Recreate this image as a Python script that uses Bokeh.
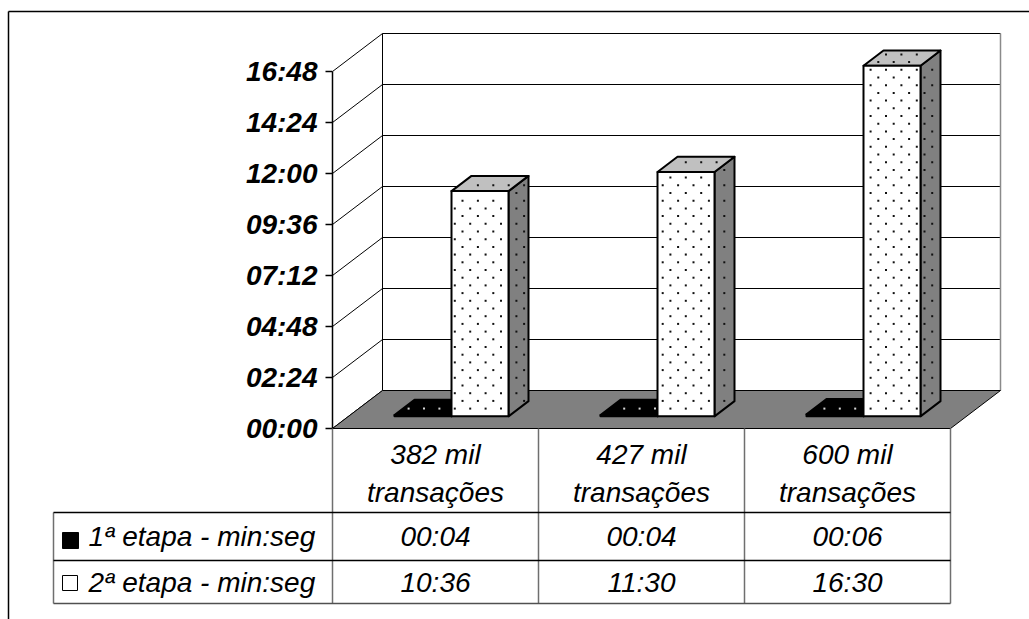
import numpy as np
from bokeh.plotting import figure
from bokeh.models import Range1d
from bokeh.core.properties import value
from bokeh.embed import file_html
from bokeh.resources import INLINE

# ---- data -------------------------------------------------------------
cat_line1 = ["382 mil", "427 mil", "600 mil"]
cat_line2 = ["transações", "transações", "transações"]
series_names = ["1ª etapa - min:seg", "2ª etapa - min:seg"]
etapa1_sec = [4, 4, 6]          # 00:04, 00:04, 00:06
etapa2_sec = [636, 690, 990]    # 10:36, 11:30, 16:30
tick_values = [0, 144, 288, 432, 576, 720, 864, 1008]
tick_labels = ["00:00", "02:24", "04:48", "07:12", "09:36", "12:00", "14:24", "16:48"]


def mmss(sec):
    return f"{sec // 60:02d}:{sec % 60:02d}"


# ---- canvas geometry (pixel layout -> data space helpers) ------------
W, H = 1029, 619
X0_PX, Y0_PX = 332, 428          # front-left corner of the floor
CAT_PX = 206                     # width of one category slot
SEC_PER_PX = 1008 / 357


def X(px):
    return (np.asarray(px, dtype=float) - X0_PX) / CAT_PX


def Y(py):
    return (Y0_PX - np.asarray(py, dtype=float)) * SEC_PER_PX


def to_px(xs, ys):
    return X0_PX + np.asarray(xs, dtype=float) * CAT_PX, Y0_PX - np.asarray(ys, dtype=float) / SEC_PER_PX


DX = float(X(X0_PX + 50))        # depth offset of the back wall
DY = 38 * SEC_PER_PX
N = len(cat_line1)
YMAX = tick_values[-1]

GAP = 46 / CAT_PX                # space on each side of a bar pair
BW = 57 / CAT_PX                 # bar width
F0, F1 = 0.32, 0.72              # bar depth span (fraction of floor depth)

FONT = value("Liberation Sans")

# staggered dot fill (screen-aligned lattice, in pixels)
ROW, COL, MARGIN = 7.7, 15.4, 2.5


def dot_fill(xs, ys):
    """Dot lattice points that fall inside a convex face, returned in data space."""
    px, py = to_px(xs, ys)
    n = len(px)
    area = 0.5 * sum(px[k] * py[(k + 1) % n] - px[(k + 1) % n] * py[k] for k in range(n))
    sgn = np.sign(area)
    gx, gy = [], []
    for k in range(int(np.floor(py.min() / ROW)), int(np.ceil(py.max() / ROW)) + 1):
        off = (k % 2) * COL / 2
        js = np.arange(int(np.floor((px.min() - off) / COL)), int(np.ceil((px.max() - off) / COL)) + 1)
        gx.extend(off + js * COL)
        gy.extend([k * ROW] * len(js))
    gx, gy = np.array(gx), np.array(gy)
    keep = np.ones(len(gx), dtype=bool)
    for k in range(n):
        ax, ay = px[k], py[k]
        ex, ey = px[(k + 1) % n] - ax, py[(k + 1) % n] - ay
        dist = sgn * (ex * (gy - ay) - ey * (gx - ax)) / np.hypot(ex, ey)
        keep &= dist >= MARGIN
    return X(gx[keep]), Y(gy[keep])


p = figure(width=W, height=H, x_range=Range1d(float(X(0)), float(X(W))),
           y_range=Range1d(float(Y(H)), float(Y(0))),
           output_backend="svg", toolbar_location=None, min_border=0,
           x_axis_type=None, y_axis_type=None)
p.grid.visible = False
p.outline_line_color = None
p.background_fill_color = "white"

# outer chart border
p.line(X([8, 8]), Y([H + 5, 11]), line_color="black", line_width=1.5)
p.line(X([8, W + 5]), Y([11, 11]), line_color="black", line_width=1.5)

# back wall
p.quad(left=[DX], right=[N + DX], bottom=[DY], top=[YMAX + DY], fill_color="white", line_color=None)
gy = [t + DY for t in tick_values[1:]]
p.segment(x0=[DX] * len(gy), y0=gy, x1=[N + DX] * len(gy), y1=gy, line_color="black", line_width=1)
p.segment(x0=[N + DX], y0=[DY], x1=[N + DX], y1=[YMAX + DY], line_color="#8a8a8a", line_width=1.5)
p.segment(x0=[DX], y0=[DY], x1=[DX], y1=[YMAX + DY], line_color="black", line_width=1)

# left wall grid diagonals
p.segment(x0=[0] * len(tick_values), y0=tick_values,
          x1=[DX] * len(tick_values), y1=[t + DY for t in tick_values],
          line_color="black", line_width=1)

# floor
p.patch([0, DX, N + DX, N], [0, DY, DY, 0], fill_color="#808080", line_color="black", line_width=1)

# bars
series_vals = [etapa1_sec, etapa2_sec]
styles = [
    dict(front="black", top="black", side="black", dots="#d8d8d8"),
    dict(front="white", top="#c0c0c0", side="#808080", dots="#111111"),
]
for i in range(N):
    for s in range(2):
        v = series_vals[s][i]
        st = styles[s]
        x0 = i + GAP + s * BW
        x1 = x0 + BW
        front_x = [x0 + F0 * DX, x1 + F0 * DX, x1 + F0 * DX, x0 + F0 * DX]
        front_y = [F0 * DY, F0 * DY, v + F0 * DY, v + F0 * DY]
        side_x = [x1 + F0 * DX, x1 + F1 * DX, x1 + F1 * DX, x1 + F0 * DX]
        side_y = [F0 * DY, F1 * DY, v + F1 * DY, v + F0 * DY]
        top_x = [x0 + F0 * DX, x1 + F0 * DX, x1 + F1 * DX, x0 + F1 * DX]
        top_y = [v + F0 * DY, v + F0 * DY, v + F1 * DY, v + F1 * DY]
        p.patch(side_x, side_y, fill_color=st["side"], line_color="black", line_width=2, line_join="round")
        p.patch(top_x, top_y, fill_color=st["top"], line_color="black", line_width=2, line_join="round")
        p.patch(front_x, front_y, fill_color=st["front"], line_color="black", line_width=2, line_join="round")
        dx_all, dy_all = [], []
        for fx, fy in ((front_x, front_y), (side_x, side_y), (top_x, top_y)):
            ddx, ddy = dot_fill(fx, fy)
            dx_all.extend(ddx)
            dy_all.extend(ddy)
        p.scatter(dx_all, dy_all, marker="square", size=2, fill_color=st["dots"], line_color=None)

# value axis
p.segment(x0=[0], y0=[0], x1=[0], y1=[YMAX], line_color="black", line_width=1.5)
p.segment(x0=[float(X(325))] * len(tick_values), y0=tick_values, x1=[0] * len(tick_values), y1=tick_values,
          line_color="black", line_width=1.5)
p.text(x=[float(X(317))] * len(tick_values), y=tick_values, text=tick_labels,
       text_font=FONT, text_font_style="bold italic", text_font_size="28px",
       text_align="right", text_baseline="middle", text_color="black")

# data table
vcol = "#6f6f6f"
p.segment(x0=list(range(N + 1)), y0=[float(Y(428))] * (N + 1), x1=list(range(N + 1)),
          y1=[float(Y(603))] * (N + 1), line_color=vcol, line_width=1.5)
p.segment(x0=[float(X(53))], y0=[float(Y(512))], x1=[float(X(53))], y1=[float(Y(603))],
          line_color=vcol, line_width=1.5)
p.segment(x0=[float(X(53))] * 2, y0=list(Y([512, 560])), x1=[N] * 2, y1=list(Y([512, 560])),
          line_color="black", line_width=1.5)
p.segment(x0=[float(X(53))], y0=[float(Y(603))], x1=[N], y1=[float(Y(603))],
          line_color="#505050", line_width=1.5)

centers = [i + 0.5 for i in range(N)]
tstyle = dict(text_font=FONT, text_font_style="italic", text_font_size="28px",
              text_align="center", text_baseline="middle", text_color="black")
p.text(x=centers, y=[float(Y(454))] * N, text=cat_line1, **tstyle)
p.text(x=centers, y=[float(Y(492))] * N, text=cat_line2, **tstyle)
p.text(x=centers, y=[float(Y(536))] * N, text=[mmss(v) for v in etapa1_sec], **tstyle)
p.text(x=centers, y=[float(Y(582))] * N, text=[mmss(v) for v in etapa2_sec], **tstyle)

# legend keys and labels in the table
lstyle = dict(tstyle, text_align="left")
p.text(x=[float(X(88))] * 2, y=list(Y([536, 582])), text=series_names, **lstyle)
p.quad(left=[float(X(62))], right=[float(X(78))], bottom=[float(Y(548))], top=[float(Y(532))],
       fill_color="black", line_color="black", line_width=1)
p.quad(left=[float(X(62))], right=[float(X(77))], bottom=[float(Y(590))], top=[float(Y(575))],
       fill_color="white", line_color="black", line_width=1)

open("out.html", "w").write(file_html(p, INLINE))
